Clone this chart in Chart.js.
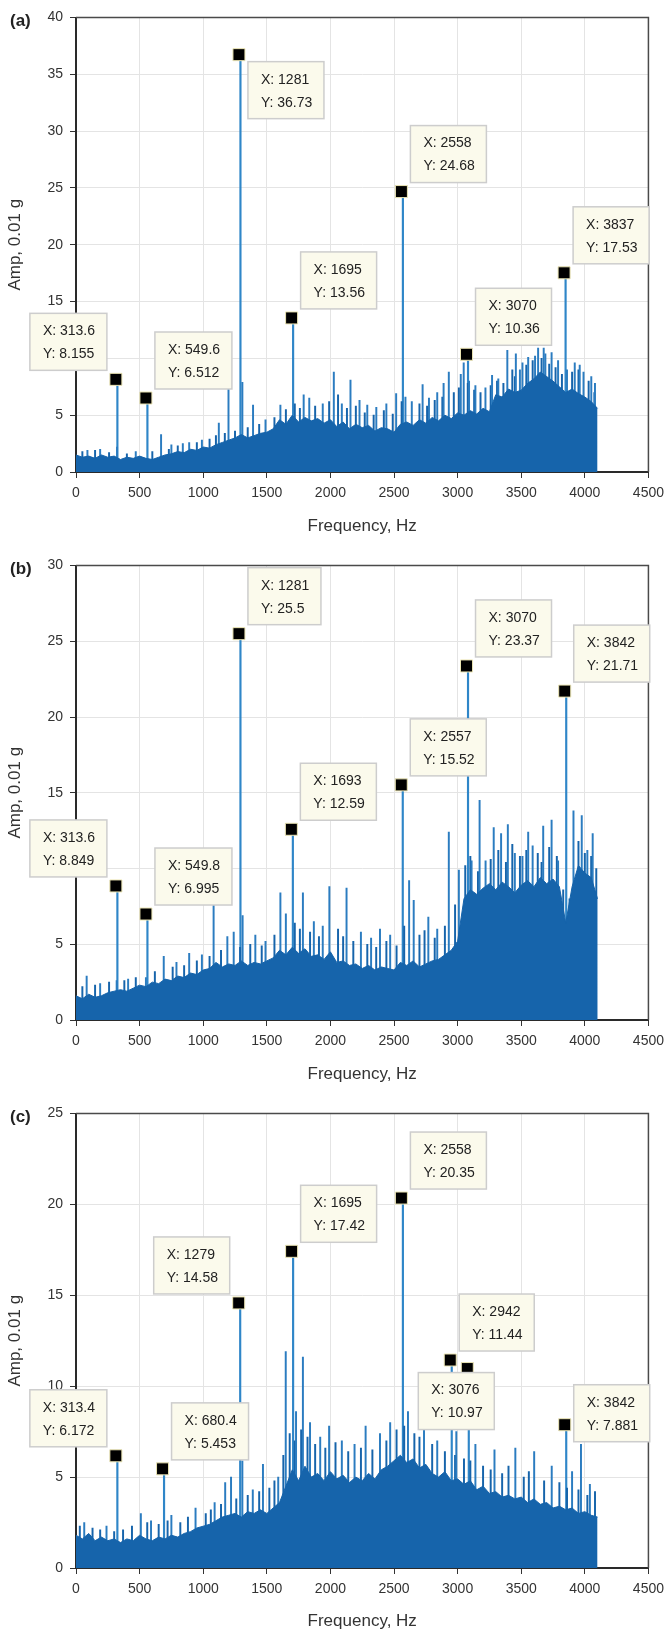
<!DOCTYPE html>
<html>
<head>
<title>Amplitude spectra</title>
<script src="https://cdn.jsdelivr.net/npm/chart.js@4"></script>
<style>
  body { margin: 0; background: #fff; overflow: hidden; }
  canvas { display: block; }
</style>
</head>
<body>
<canvas id="chartA" width="671" height="548"></canvas>
<canvas id="chartB" width="671" height="548"></canvas>
<canvas id="chartC" width="671" height="536"></canvas>
<script>
// frequency grid of the dense noise band (Hz)
const bandFreq = [0,50,100,150,200,250,300,350,400,450,500,550,600,650,700,750,800,850,900,950,
  1000,1050,1100,1150,1200,1250,1300,1350,1400,1450,1500,1550,1600,1650,1700,1750,1800,1850,1900,1950,
  2000,2050,2100,2150,2200,2250,2300,2350,2400,2450,2500,2550,2600,2650,2700,2750,2800,2850,2900,2950,
  3000,3050,3100,3150,3200,3250,3300,3350,3400,3450,3500,3550,3600,3650,3700,3750,3800,3850,3900,3950,
  4000,4050,4100];

// (a)
const bandA = [1.5,1.3,1.4,1.2,1.5,1.3,1.4,1.1,1.3,1.2,1.4,1.2,1.1,1.3,1.5,1.6,1.8,1.7,2.0,1.9,
  2.2,2.1,2.4,2.6,2.8,3.0,3.3,3.0,3.2,3.4,3.5,3.8,4.6,4.2,5.0,4.4,4.8,4.5,4.7,4.3,
  4.6,4.0,4.4,3.8,4.2,3.9,4.1,3.6,3.9,3.8,3.5,4.2,4.4,4.1,4.6,4.3,4.8,4.5,5.0,4.7,
  5.2,5.0,5.4,5.1,5.6,5.3,6.8,6.6,7.3,7.0,7.2,7.8,8.2,8.8,8.4,8.0,7.5,7.0,7.3,6.9,
  6.6,6.2,5.6];
const spikeFreqA = [100,200,333,480,679,760,850,900,1000,1133,1209,1318,1402,1500,1617,1800,1844,1950,2037,2100,
  2168,2239,2300,2371,2450,2527,2600,2650,2735,2785,2850,2900,2941,3035,3058,3100,3150,3229,3281,3330,
  3401,3468,3500,3520,3565,3619,3643,3687,3700,3749,3800,3870,3931,3970,4000,4061,4090];
const spikeAmpA = [1.9,2.0,2.2,1.8,3.3,2.4,2.5,2.6,2.8,4.3,7.3,7.9,5.9,4.6,5.9,6.8,6.5,6.0,8.8,6.0,
  8.1,6.3,5.9,5.7,6.0,6.9,6.6,6.2,7.7,6.5,7.0,7.8,8.8,8.6,9.6,8.0,7.6,7.4,8.5,8.2,
  10.7,10.4,9.0,9.6,10.1,10.2,10.9,10.9,10.4,10.5,9.8,9.0,9.6,9.4,8.8,8.4,7.8];
const minorFreqA = [50,150,260,400,600,730,800,950,1050,1100,1170,1250,1350,1440,1560,1650,1720,1760,1880,1990,
  2060,2130,2200,2270,2340,2420,2490,2560,2700,2760,2820,2880,2970,3010,3080,3130,3180,3260,3310,3360,
  3430,3450,3540,3590,3660,3720,3770,3820,3900,3950,4030,4075];
const minorAmpA = [1.8,1.9,1.7,1.6,1.8,2.0,2.3,2.6,2.9,3.2,3.4,3.6,3.9,4.2,4.8,5.5,6.0,5.6,5.8,6.2,
  6.8,5.6,5.8,5.2,5.0,5.4,5.1,6.2,6.0,5.8,6.3,6.6,7.0,7.4,7.8,7.2,7.0,7.6,8.0,7.8,
  9.0,8.4,9.4,9.8,10.0,9.5,9.2,8.6,8.8,9.0,8.0,7.0];
const peakFreqA = [313.6, 549.6, 1281, 1695, 2558, 3070, 3837];
const peakAmpA = [8.155, 6.512, 36.73, 13.56, 24.68, 10.36, 17.53];

// (b)
const bandB = [1.6,1.4,1.7,1.5,1.6,1.8,1.9,2.0,1.9,2.1,2.3,2.2,2.5,2.4,2.7,2.6,2.9,2.8,3.1,3.0,
  3.3,3.4,3.8,3.5,3.7,3.6,3.9,3.6,3.8,3.7,3.9,4.1,4.6,4.3,4.8,4.4,4.7,4.2,4.3,4.0,
  4.5,3.8,3.9,3.6,3.7,3.4,3.6,3.3,3.5,3.4,3.3,3.8,3.6,3.9,3.5,3.7,3.9,4.0,4.3,4.6,
  5.2,8.0,8.6,8.3,8.7,9.0,8.6,9.1,8.8,8.4,8.9,9.2,8.8,9.4,9.0,9.3,8.8,6.4,8.8,10.2,
  9.7,9.4,8.0];
const spikeFreqB = [94,200,330,420,560,700,800,900,1000,1092,1200,1250,1320,1420,1500,1617,1660,1794,1880,1950,
  2002,2137,2250,2330,2400,2480,2629,2665,2780,2850,2941,3020,3120,3183,3230,3294,3352,3405,3460,3520,
  3565,3600,3683,3749,3800,3921,3986,4030,4072];
const spikeAmpB = [2.9,2.4,2.6,2.7,2.8,4.2,3.8,4.4,4.3,7.7,5.5,5.8,6.9,5.6,5.2,8.4,7.0,8.4,6.5,6.2,
  8.8,8.7,5.8,5.4,6.0,5.6,9.2,7.9,6.8,6.0,12.4,9.9,10.5,14.5,10.5,12.7,12.3,12.9,11.0,10.8,
  12.4,11.5,12.8,13.2,10.5,13.8,13.5,11.2,12.3];
const minorFreqB = [50,150,260,380,470,620,760,850,950,1050,1140,1290,1370,1460,1560,1720,1760,1840,1910,2060,
  2100,2180,2290,2360,2440,2520,2580,2700,2740,2820,2900,2980,3060,3100,3160,3260,3320,3380,3430,3490,
  3540,3630,3660,3720,3780,3830,3880,3950,4000,4050,4090];
const minorAmpB = [2.2,2.3,2.5,2.6,2.8,3.2,3.5,3.6,3.9,4.2,4.6,4.8,5.0,4.9,5.6,6.4,6.0,5.8,5.5,6.0,
  5.5,5.2,5.0,4.8,5.2,4.9,6.2,5.6,5.9,5.4,6.2,7.6,10.2,10.8,9.8,10.6,11.2,10.4,11.6,10.8,
  11.2,11.0,10.4,11.4,10.8,8.6,8.0,11.8,11.0,10.8,10.0];
const peakFreqB = [313.6, 549.8, 1281, 1693, 2557, 3070, 3842];
const peakAmpB = [8.849, 6.995, 25.5, 12.59, 15.52, 23.37, 21.71];

// (c)
const bandC = [1.8,1.6,1.9,1.5,1.7,1.5,1.6,1.4,1.6,1.5,1.8,1.6,1.5,1.7,1.6,1.8,1.7,1.9,2.0,2.2,
  2.3,2.4,2.6,2.8,2.9,3.0,2.8,3.1,3.0,3.2,3.0,3.3,3.6,4.5,5.4,4.8,5.6,5.0,5.2,4.8,
  5.3,4.9,5.1,4.7,5.0,4.8,5.2,4.9,5.4,5.6,5.9,6.2,5.8,6.0,5.5,5.7,5.2,5.0,5.3,4.8,
  4.9,4.6,4.8,4.3,4.5,4.1,4.2,3.9,4.0,3.8,3.9,3.6,3.8,3.5,3.6,3.3,3.4,3.2,3.3,3.0,
  3.1,2.9,2.8];
const spikeFreqC = [75,250,520,600,760,950,1100,1183,1229,1318,1400,1480,1600,1659,1740,1794,1850,1930,2000,2100,
  2200,2287,2400,2480,2620,2746,2850,3000,3150,3300,3464,3612,3750,3910,3980,4050];
const spikeAmpC = [2.5,2.3,3.0,2.6,2.9,3.3,3.6,4.7,5.0,5.9,4.3,5.7,5.0,11.9,8.6,11.6,8.0,7.2,7.8,7.0,
  6.8,7.8,7.4,8.0,8.6,8.2,7.0,7.5,6.8,6.5,6.6,6.4,5.6,5.3,6.8,4.6];
const minorFreqC = [30,130,190,300,370,440,560,650,720,820,880,1020,1060,1140,1260,1350,1440,1520,1560,1630,
  1680,1720,1770,1820,1880,1960,2040,2140,2240,2330,2440,2520,2580,2660,2700,2800,2900,2980,3050,3100,
  3200,3260,3350,3400,3520,3560,3680,3800,3860,3950,4020,4080];
const minorAmpC = [2.3,2.2,2.1,2.0,2.1,2.3,2.5,2.4,2.6,2.5,2.8,3.0,3.2,3.5,3.8,4.0,4.2,4.4,4.8,6.2,
  7.4,7.0,7.6,7.2,6.8,6.6,6.9,6.4,6.6,6.5,7.0,7.6,7.8,7.4,7.2,6.8,6.4,6.2,6.0,5.9,
  5.6,5.4,5.2,5.6,5.0,5.3,4.8,4.7,4.4,4.3,4.0,4.2];
const peakFreqC = [313.4, 680.4, 1279, 1695, 2558, 2942, 3076, 3842];
const peakAmpC = [6.172, 5.453, 14.58, 17.42, 20.35, 11.44, 10.97, 7.881];

const xTicks = [0, 500, 1000, 1500, 2000, 2500, 3000, 3500, 4000, 4500];

const BAND = '#1664ab';
const SPIKE = '#2b7cc0';
const PEAK = '#2f86c8';
const FONT = '"Liberation Sans", Arial, sans-serif';
Chart.defaults.font.family = FONT;

function pts(xs, ys) { return xs.map((v, i) => ({ x: v, y: ys[i] })); }

// data tip boxes, panel letter and the top/right frame
const tipPlugin = {
  id: 'tips',
  afterDatasetsDraw(chart, args, opts) {
    const { ctx, chartArea: a, scales: { x, y } } = chart;
    ctx.save();
    ctx.strokeStyle = '#4a4a4a';
    ctx.lineWidth = 1.5;
    ctx.beginPath();
    ctx.moveTo(a.left, a.top); ctx.lineTo(a.right, a.top); ctx.lineTo(a.right, a.bottom);
    ctx.stroke();

    ctx.fillStyle = '#222';
    ctx.textBaseline = 'middle';
    ctx.textAlign = 'left';
    ctx.font = 'bold 17px ' + FONT;
    ctx.fillText(opts.letter, 10, 21);

    ctx.font = '14px ' + FONT;
    opts.freq.forEach((f, i) => {
      const mx = x.getPixelForValue(f), my = y.getPixelForValue(opts.amp[i]);
      const l1 = 'X: ' + f, l2 = 'Y: ' + opts.amp[i];
      const w = Math.round(Math.max(ctx.measureText(l1).width, ctx.measureText(l2).width) + 25);
      const h = 57;
      let bx, by;
      switch (opts.place[i]) {
        case 'ul': bx = mx - 9 - w; by = my - 9 - h; break;
        case 'dr': bx = mx + 9; by = my + 7; break;
        case 'dl': bx = mx - 49; by = my + 4; break;
        case 'r':  bx = mx + 9; by = my - 40; break;
        default:   bx = mx + 9; by = my - 9 - h;
      }
      ctx.fillStyle = '#fbfaec';
      ctx.fillRect(bx, by, w, h);
      ctx.strokeStyle = '#cdcdcd';
      ctx.lineWidth = 1.5;
      ctx.strokeRect(bx, by, w, h);
      ctx.fillStyle = '#222';
      ctx.fillText(l1, bx + 13, by + 18);
      ctx.fillText(l2, bx + 13, by + 41);
    });
    ctx.restore();
  }
};

function makeChart(id, p) {
  return new Chart(document.getElementById(id), {
    type: 'line',
    data: {
      datasets: [
        { type: 'line', data: pts(p.peakFreq, p.peakAmp), showLine: false, pointStyle: 'rect',
          pointRadius: 8.5, pointBackgroundColor: '#000', pointBorderColor: '#ece6b5', pointBorderWidth: 1, order: 0 },
        { type: 'line', data: pts(bandFreq, p.band), fill: 'origin', borderColor: BAND, backgroundColor: BAND,
          borderWidth: 1, pointRadius: 0, tension: 0, order: 1 },
        { type: 'bar', data: pts(p.spikeFreq, p.spikeAmp), backgroundColor: SPIKE, barThickness: 1.3, order: 2 },
        { type: 'bar', data: pts(p.minorFreq, p.minorAmp), backgroundColor: BAND, barThickness: 1.3, order: 2 },
        { type: 'bar', data: pts(p.peakFreq, p.peakAmp), backgroundColor: PEAK, barThickness: 1.5, order: 3 }
      ]
    },
    options: {
      responsive: false,
      animation: false,
      events: [],
      layout: { padding: { left: 0, right: 18, top: 17.5, bottom: 0 } },
      plugins: {
        legend: { display: false },
        tooltip: { enabled: false },
        tips: { freq: p.peakFreq, amp: p.peakAmp, place: p.place, letter: p.letter }
      },
      scales: {
        x: {
          type: 'linear', min: 0, max: 4500, offset: false,
          afterBuildTicks: s => { s.ticks = xTicks.map(v => ({ value: v })); },
          ticks: { autoSkip: false, maxRotation: 0, padding: 7, color: '#333', font: { size: 14 },
                   callback: v => String(v) },
          grid: { color: '#e4e4e4', tickColor: '#333', tickLength: 6, offset: false },
          border: { color: '#2a2a2a', width: 2 },
          title: { display: true, text: 'Frequency, Hz', color: '#333', font: { size: 17 },
                   padding: { top: 0, bottom: p.titlePad } },
          afterFit: s => { s.height = p.xHeight; }
        },
        y: {
          min: 0, max: p.yMax,
          ticks: { stepSize: 5, padding: 7, color: '#333', font: { size: 14 }, callback: v => String(v) },
          grid: { color: '#e4e4e4', tickColor: '#333', tickLength: 6 },
          border: { color: '#2a2a2a', width: 2 },
          title: { display: true, text: 'Amp, 0.01 g', color: '#333', font: { size: 17 },
                   padding: { top: 5, bottom: 0 } },
          afterFit: s => { s.width = 76; }
        }
      }
    },
    plugins: [tipPlugin]
  });
}

makeChart('chartA', { band: bandA, spikeFreq: spikeFreqA, spikeAmp: spikeAmpA, minorFreq: minorFreqA, minorAmp: minorAmpA,
  peakFreq: peakFreqA, peakAmp: peakAmpA,
  place: ['ul','ur','dr','ur','ur','ur','ur'], letter: '(a)', yMax: 40, xHeight: 76, titlePad: 11.8 });
makeChart('chartB', { band: bandB, spikeFreq: spikeFreqB, spikeAmp: spikeAmpB, minorFreq: minorFreqB, minorAmp: minorAmpB,
  peakFreq: peakFreqB, peakAmp: peakAmpB,
  place: ['ul','ur','ur','ur','ur','ur','ur'], letter: '(b)', yMax: 30, xHeight: 76, titlePad: 11.8 });
makeChart('chartC', { band: bandC, spikeFreq: spikeFreqC, spikeAmp: spikeAmpC, minorFreq: minorFreqC, minorAmp: minorAmpC,
  peakFreq: peakFreqC, peakAmp: peakAmpC,
  place: ['ul','ur','ul','ur','ur','ur','dl','r'], letter: '(c)', yMax: 25, xHeight: 64, titlePad: 0 });
</script>
</body>
</html>
